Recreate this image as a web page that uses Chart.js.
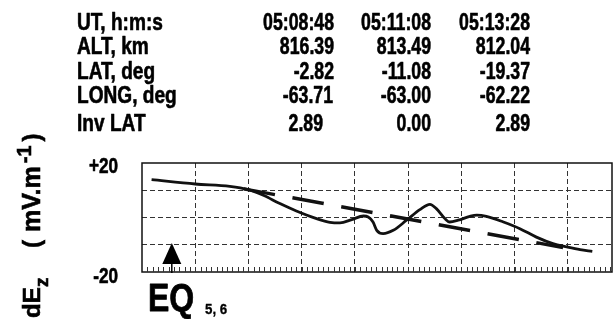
<!DOCTYPE html>
<html><head><meta charset="utf-8">
<script src="https://cdn.jsdelivr.net/npm/chart.js@4/dist/chart.umd.min.js"></script>
<style>html,body{margin:0;padding:0;background:#fff}#wrap{width:614px;height:319px}</style>
</head><body><div id="wrap"><canvas id="c" width="614" height="319"></canvas></div>
<script>
// ---- data ----
const rowLabels = ["UT, h:m:s", "ALT, km", "LAT, deg", "LONG, deg", "Inv LAT"];
const col1 = ["05:08:48", "816.39", "-2.82", "-63.71", "2.89"];
const col2 = ["05:11:08", "813.49", "-11.08", "-63.00", "0.00"];
const col3 = ["05:13:28", "812.04", "-19.37", "-62.22", "2.89"];
const yTickLabels = ["+20", "-20"];
const yTickValues = [20, -20];
const solidX = [0.18, 1.0, 1.65, 2.0, 2.28, 2.59, 2.9, 3.28, 3.53, 3.72, 3.94, 4.16, 4.25, 4.34, 4.41, 4.53, 4.72, 4.97, 5.22, 5.41, 5.53, 5.69, 5.78, 5.94, 6.16, 6.29, 6.47, 6.79, 7.1, 7.41, 7.72, 7.98, 8.23, 8.46];
const solidY = [13.9, 12.3, 11.45, 10.2, 8.15, 5.1, 2.4, -0.4, -1.76, -2.0, -0.77, 0.55, 0.2, -1.65, -4.7, -5.9, -4.7, -1.0, 2.9, 4.85, 3.25, -0.4, -1.65, -1.0, 0.44, 0.9, 0.44, -1.65, -4.1, -7.2, -9.6, -10.8, -11.8, -12.4];
const dashedX = [1.91, 7.91];
const dashedY = [10.53, -11.05];
const eqMarker = 0.56;
const eqLabel = "EQ";
const eqSub = "5, 6";
const xMax = 8.83;

// ---- helpers ----
function txt(ctx, s, x, y, font, sx, align, bold) {
  ctx.save();
  ctx.font = font;
  ctx.translate(x, y);
  ctx.scale(sx, 1);
  ctx.textAlign = align || 'left';
  ctx.textBaseline = 'alphabetic';
  ctx.fillStyle = '#000';
  ctx.strokeStyle = '#000';
  ctx.lineWidth = bold == null ? 0.6 : bold;
  ctx.lineJoin = 'round';
  ctx.fillText(s, 0, 0);
  if (ctx.lineWidth > 0) ctx.strokeText(s, 0, 0);
  ctx.restore();
}
const FAM = '"Liberation Sans", Arial, sans-serif';

const decor = {
  id: 'decor',
  beforeDraw(chart) {
    const ctx = chart.ctx;
    ctx.save(); ctx.fillStyle = '#fff'; ctx.fillRect(0, 0, chart.width, chart.height); ctx.restore();
  },
  afterDraw(chart) {
    const ctx = chart.ctx, a = chart.chartArea, xs = chart.scales.x, ys = chart.scales.y;
    // frame
    ctx.save();
    ctx.strokeStyle = '#111'; ctx.lineWidth = 1.5;
    ctx.strokeRect(a.left, a.top, a.right - a.left, a.bottom - a.top);
    // minor ticks
    ctx.lineWidth = 1; ctx.strokeStyle = '#333';
    ctx.beginPath();
    for (let i = 1; i * 0.1 < xMax; i++) {
      const px = Math.round(xs.getPixelForValue(i * 0.1)) + 0.5;
      ctx.moveTo(px, a.bottom); ctx.lineTo(px, a.bottom - 5);
    }
    ctx.stroke();
    // EQ arrow
    const ax = xs.getPixelForValue(eqMarker);
    ctx.fillStyle = '#000';
    ctx.beginPath();
    ctx.moveTo(ax, a.bottom - 29); ctx.lineTo(ax + 9.5, a.bottom - 8); ctx.lineTo(ax - 9.5, a.bottom - 8); ctx.closePath();
    ctx.fill();
    ctx.lineWidth = 1.5; ctx.strokeStyle = '#000';
    ctx.beginPath(); ctx.moveTo(ax, a.bottom - 9); ctx.lineTo(ax, a.bottom + 1); ctx.stroke();
    ctx.restore();

    // y tick labels
    yTickValues.forEach((v, i) => {
      txt(ctx, yTickLabels[i], a.left - 24, ys.getPixelForValue(v) + 10 + (i ? 1 : 0), 'bold 22px ' + FAM, 0.78, 'right');
    });
    // EQ label
    txt(ctx, eqLabel, 148, 311, 'bold 39px ' + FAM, 0.82, 'left', 0.8);
    txt(ctx, eqSub, 205, 314, 'bold 14px ' + FAM, 0.95, 'left', 0.3);

    // table
    const base = [30, 54, 79, 103, 131];
    const rights = [[334, 431, 530], [334, 431, 530], [334, 431, 530], [333, 431, 530], [323, 431, 530]];
    const tf = 'bold 23px ' + FAM;
    rowLabels.forEach((l, r) => {
      txt(ctx, l, 77, base[r], tf, 0.83, 'left');
      txt(ctx, col1[r], rights[r][0], base[r], tf, 0.77, 'right');
      txt(ctx, col2[r], rights[r][1], base[r], tf, 0.77, 'right');
      txt(ctx, col3[r], rights[r][2], base[r], tf, 0.77, 'right');
    });

    // y axis title (rotated)
    ctx.save();
    ctx.translate(40, 318);
    ctx.rotate(-Math.PI / 2);
    ctx.fillStyle = '#000';
    ctx.strokeStyle = '#000';
    ctx.lineWidth = 0.6;
    ctx.textBaseline = 'alphabetic';
    const put = (s, x, y, f) => { ctx.font = f; ctx.fillText(s, x, y); ctx.strokeText(s, x, y); return ctx.measureText(s).width; };
    put('dE', 0, 0, 'bold 24px ' + FAM);
    put('z', 31, 8, 'bold 19px ' + FAM);
    put('(', 70, 0, 'bold 24px ' + FAM);
    const w1 = put('mV.m', 86, 0, 'bold 25px ' + FAM);
    const w2 = put('-1', 86 + w1 + 3, -9, 'bold 20px ' + FAM);
    put(')', 86 + w1 + w2 + 7, 0, 'bold 24px ' + FAM);
    ctx.restore();
  }
};

const toPts = (xa, ya) => xa.map((x, i) => ({ x: x, y: ya[i] }));

new Chart(document.getElementById('c'), {
  type: 'line',
  data: {
    datasets: [
      { data: toPts(solidX, solidY), borderColor: '#111', borderWidth: 2.8, pointRadius: 0, cubicInterpolationMode: 'monotone', fill: false },
      { data: toPts(dashedX, dashedY), borderColor: '#111', borderWidth: 3.4, borderDash: [31.8, 17.8], pointRadius: 0, fill: false }
    ]
  },
  options: {
    responsive: false,
    animation: false,
    devicePixelRatio: 1,
    layout: { padding: { left: 142, right: 2, top: 163, bottom: 47 } },
    plugins: { legend: { display: false }, tooltip: { enabled: false } },
    scales: {
      x: {
        type: 'linear', min: 0, max: xMax,
        ticks: { display: false, stepSize: 1 },
        afterBuildTicks: s => { s.ticks = s.ticks.filter(t => t.value > 0.5 && t.value < xMax - 0.3 && Number.isInteger(t.value)); },
        grid: { display: true, color: '#333', lineWidth: 1, drawTicks: false },
        border: { display: false, dash: [5, 3] }
      },
      y: {
        min: -20, max: 20,
        ticks: { display: false, stepSize: 10 },
        afterBuildTicks: s => { s.ticks = s.ticks.filter(t => t.value > -20 && t.value < 20); },
        grid: { display: true, color: '#333', lineWidth: 1, drawTicks: false },
        border: { display: false, dash: [5, 3] }
      }
    }
  },
  plugins: [decor]
});
</script>
</body></html>
